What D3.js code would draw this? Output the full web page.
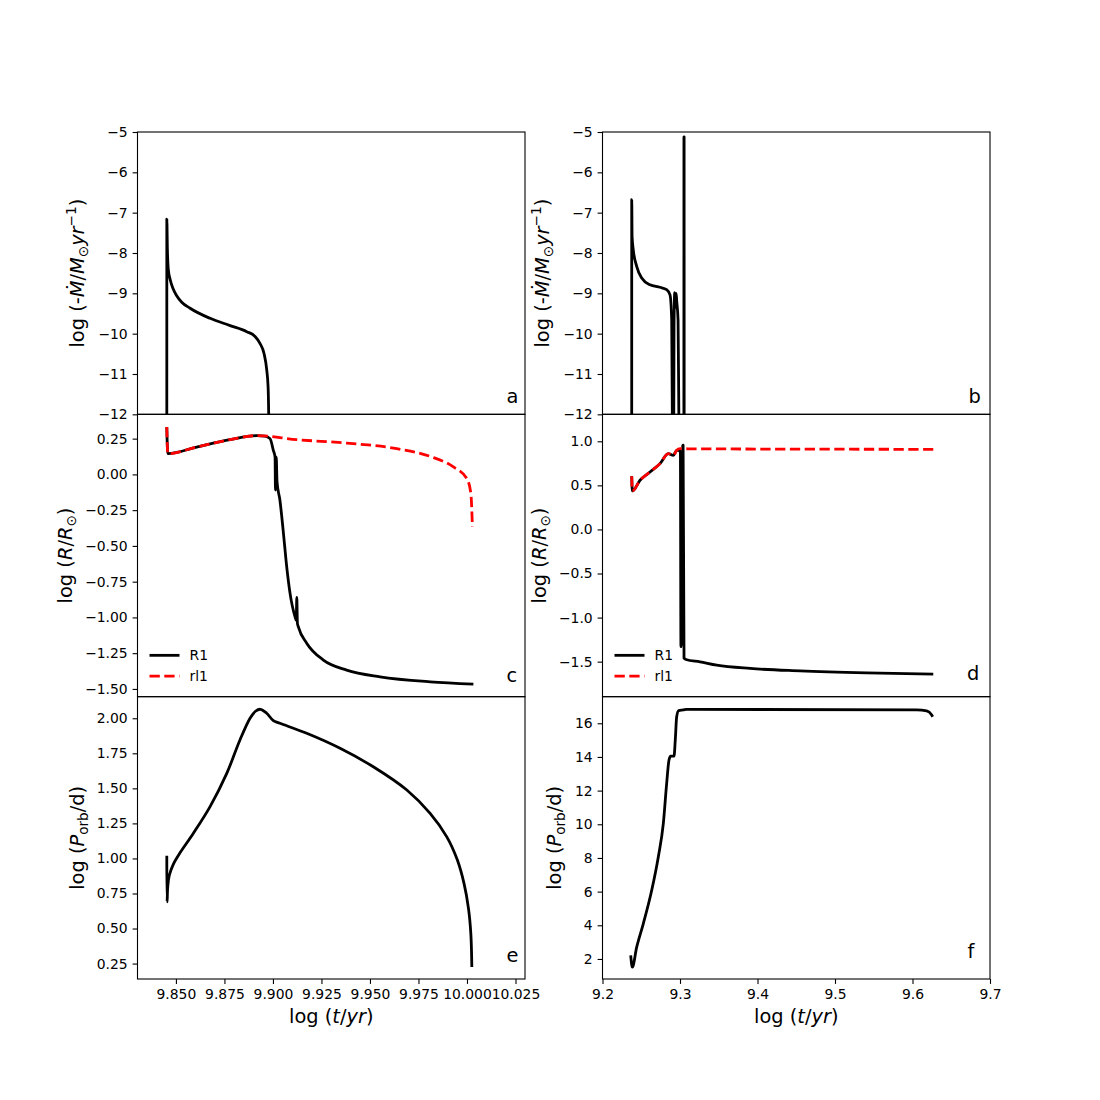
<!doctype html>
<html lang="en">
<head>
<meta charset="UTF-8">
<title>Binary evolution</title>
<script src="https://cdn.jsdelivr.net/npm/d3@7"></script>
<style>
	body { margin: 0; background: #fff; }
	text { font-family: "DejaVu Sans", sans-serif; }
</style>
</head>
<body>
<div id="container"></div>
<script>
	// panel a: mass transfer rate (left system)
	var tA = [9.8453, 9.84531, 9.8456, 9.8461, 9.8470, 9.8485, 9.8504, 9.8530, 9.8573, 9.8676, 9.8779, 9.8865, 9.8908,
		9.8933, 9.8954, 9.8968, 9.8975, 9.8978, 9.8980];
	var mdotA = [-13, -7.16, -7.9, -8.42, -8.65, -8.88, -9.06, -9.22, -9.37, -9.62, -9.80, -9.95, -10.07,
		-10.24, -10.49, -10.90, -11.32, -11.98, -13];

	// panel b: mass transfer rate (right system)
	var tB = [9.2377, 9.23771, 9.2382, 9.2397, 9.2441, 9.2506, 9.2613, 9.2742, 9.2828, 9.2871, 9.2893, 9.2901, 9.2903,
		9.2918, 9.2923, 9.2932, 9.2940, 9.2950, 9.2958, 9.2975, 9.2985, 9.2990,
		9.3050, 9.3051, 9.3053, 9.3054];
	var mdotB = [-13, -6.68, -7.6, -7.92, -8.33, -8.62, -8.79, -8.85, -8.91, -9.04, -9.66, -12, -13,
		-13, -9.8, -8.98, -9.35, -9.0, -9.2, -9.66, -12, -13,
		-13, -5.12, -5.12, -13];

	// panel c: radius and Roche lobe (left system)
	var tR1c = [9.8453, 9.8458, 9.8607, 9.8779, 9.8916, 9.8959, 9.8985, 9.9002, 9.9011, 9.9013, 9.9017, 9.9021, 9.9036, 9.9054,
		9.9071, 9.9088, 9.9114, 9.9120, 9.9123, 9.9126, 9.9131, 9.9174, 9.9260, 9.9380, 9.9552, 9.9810, 10.0033];
	var r1C = [0.331, 0.145, 0.191, 0.243, 0.271, 0.268, 0.25, 0.168, 0.12, -0.11, 0.12, -0.05, -0.18, -0.41,
		-0.647, -0.83, -0.996, -1.02, -0.86, -1.04, -1.066, -1.18, -1.298, -1.368, -1.415, -1.45, -1.466];
	var tRl1c = [9.8453, 9.8458, 9.8607, 9.8779, 9.8916, 9.9123, 9.9380, 9.9638, 9.9810, 9.9930, 9.9999, 10.0020, 10.0028];
	var rl1C = [0.331, 0.145, 0.191, 0.243, 0.271, 0.243, 0.219, 0.18, 0.126, 0.052, -0.029, -0.134, -0.367];

	// panel d: radius and Roche lobe (right system)
	var tR1d = [9.2377, 9.2385, 9.2484, 9.2613, 9.2742, 9.2849, 9.2914, 9.2957, 9.2990, 9.3005, 9.3012, 9.3020, 9.3035, 9.3040,
		9.3052, 9.3077, 9.3258, 9.3474, 9.3903, 9.4548, 9.5409, 9.6268];
	var r1D = [0.603, 0.437, 0.558, 0.652, 0.747, 0.86, 0.84, 0.898, 0.90, 0.87, -1.33, -1.2, 0.95, 0.955,
		-1.46, -1.475, -1.502, -1.54, -1.577, -1.604, -1.627, -1.642];
	var tRl1d = [9.2377, 9.2385, 9.2484, 9.2613, 9.2742, 9.2849, 9.2914, 9.2957, 9.3000, 9.3100, 9.6268];
	var rl1D = [0.603, 0.437, 0.558, 0.652, 0.747, 0.86, 0.84, 0.898, 0.917, 0.915, 0.909];

	// panel e: orbital period (left system)
	var tE = [9.8453, 9.84545, 9.8458, 9.8466, 9.8487, 9.8521, 9.8590, 9.8676, 9.8762, 9.8830, 9.8882, 9.8910, 9.8935, 9.8968,
		9.9002, 9.9036, 9.9174, 9.9346, 9.9517, 9.9690, 9.9810, 9.9896, 9.9950, 9.9985, 10.0008, 10.0020, 10.0025];
	var porbE = [1.02, 0.69, 0.80, 0.88, 0.96, 1.04, 1.18, 1.37, 1.607, 1.845, 2.0, 2.05, 2.064, 2.036,
		1.983, 1.964, 1.893, 1.786, 1.654, 1.488, 1.321, 1.154, 0.99, 0.82, 0.64, 0.46, 0.226];

	// panel f: orbital period (right system)
	var tF = [9.2364, 9.2385, 9.2441, 9.2526, 9.2635, 9.2720, 9.2785, 9.2828, 9.2858, 9.2880, 9.2923, 9.2939, 9.2957, 9.2983,
		9.3043, 9.3086, 9.6054, 9.6183, 9.6248, 9.6261];
	var porbF = [2.21, 1.51, 2.70, 4.09, 6.08, 8.06, 10.05, 12.43, 13.82, 14.05, 14.05, 15.0, 16.39, 16.75,
		16.79, 16.83, 16.79, 16.73, 16.49, 16.39];

	// tick labels
	var xTicksLeft = [9.850, 9.875, 9.900, 9.925, 9.950, 9.975, 10.000, 10.025];
	var xTicksRight = [9.2, 9.3, 9.4, 9.5, 9.6, 9.7];
	var yTicksMdot = [-12, -11, -10, -9, -8, -7, -6, -5];
	var yTicksRc = [-1.50, -1.25, -1.00, -0.75, -0.50, -0.25, 0.00, 0.25];
	var yTicksRd = [-1.5, -1.0, -0.5, 0.0, 0.5, 1.0];
	var yTicksPe = [0.25, 0.50, 0.75, 1.00, 1.25, 1.50, 1.75, 2.00];
	var yTicksPf = [2, 4, 6, 8, 10, 12, 14, 16];
	var legendNames = ["R1", "rl1"];

	var width = 1100, height = 1100;
	var colLeft = [137.5, 602.5];
	var rowTop = [132, 414.33, 696.67];
	var pw = 387.5, ph = 282.33;
	var xDomLeft = [9.8302, 10.0299];
	var xDomRight = [9.2, 9.7];

	function zip(xs, ys) {
		return xs.map(function (x, i) { return [x, ys[i]]; });
	}

	var mdotLabel = [["log (-"], ["Ṁ", "i"], ["/"], ["M", "i"], ["⊙", "sub"], ["yr", "i"], ["−1", "sup"], [")"]];
	var radLabel = [["log ("], ["R", "i"], ["/"], ["R", "i"], ["⊙", "sub"], [")"]];
	var porbLabel = [["log ("], ["P", "i"], ["orb", "sub"], ["/d)"]];

	var panels = [
		{col: 0, row: 0, yDom: [-12, -5], yTicks: yTicksMdot, fmt: "d", label: mdotLabel, labX: 84, letter: "a", lx: 369, ly: 270.5,
			series: [{d: zip(tA, mdotA), color: "#000"}]},
		{col: 1, row: 0, yDom: [-12, -5], yTicks: yTicksMdot, fmt: "d", label: mdotLabel, labX: 549, letter: "b", lx: 366, ly: 270.5,
			series: [{d: zip(tB, mdotB), color: "#000"}]},
		{col: 0, row: 1, yDom: [-1.554, 0.42], yTicks: yTicksRc, fmt: ".2f", label: radLabel, labX: 72, letter: "c", lx: 369, ly: 267.5,
			series: [{d: zip(tR1c, r1C), color: "#000"}, {d: zip(tRl1c, rl1C), color: "#ff0000", dash: "10.3,4.5"}], legend: true},
		{col: 1, row: 1, yDom: [-1.897, 1.306], yTicks: yTicksRd, fmt: ".1f", label: radLabel, labX: 546, letter: "d", lx: 364.5, ly: 265.5,
			series: [{d: zip(tR1d, r1D), color: "#000"}, {d: zip(tRl1d, rl1D), color: "#ff0000", dash: "10.3,4.5"}], legend: true},
		{col: 0, row: 2, yDom: [0.140, 2.154], yTicks: yTicksPe, fmt: ".2f", label: porbLabel, labX: 84, letter: "e", lx: 369, ly: 265,
			series: [{d: zip(tE, porbE), color: "#000", smooth: true}]},
		{col: 1, row: 2, yDom: [0.81, 17.58], yTicks: yTicksPf, fmt: "d", label: porbLabel, labX: 561, letter: "f", lx: 365, ly: 261.5,
			series: [{d: zip(tF, porbF), color: "#000"}]}
	];

	var svg = d3.select("#container")
			.append("svg")
			.attr("width", width)
			.attr("height", height);

	svg.append("rect").attr("width", width).attr("height", height).attr("fill", "#fff");

	panels.forEach(function (p, k) {
		var scale_x = d3.scaleLinear()
				.domain(p.col === 0 ? xDomLeft : xDomRight)
				.range([0, pw]);
		var scale_y = d3.scaleLinear()
				.domain(p.yDom)
				.range([ph, 0]);

		var g = svg.append("g")
				.attr("transform", "translate(" + colLeft[p.col] + "," + rowTop[p.row] + ")");

		g.append("clipPath").attr("id", "clip" + k)
				.append("rect").attr("width", pw).attr("height", ph);

		p.series.forEach(function (s) {
			var line_generator = d3.line()
					.x(function (d) { return scale_x(d[0]); })
					.y(function (d) { return scale_y(d[1]); })
					.curve(s.smooth ? d3.curveCatmullRom.alpha(0.5) : d3.curveMonotoneX);
			g.append("path")
					.attr("clip-path", "url(#clip" + k + ")")
					.attr("d", line_generator(s.d))
					.attr("fill", "none")
					.attr("stroke", s.color)
					.attr("stroke-width", 2.8)
					.attr("stroke-dasharray", s.dash || null)
					.attr("stroke-linejoin", "round");
		});

		// y axis
		var y_axis = d3.axisLeft(scale_y)
				.tickValues(p.yTicks)
				.tickFormat(d3.format(p.fmt))
				.tickSizeOuter(0)
				.tickSize(4.9)
				.tickPadding(4.9);
		var ya = g.append("g").call(y_axis);
		ya.select(".domain").remove();
		ya.selectAll("line").attr("stroke-width", 1.1);
		ya.selectAll("text").attr("font-size", 13.9).attr("font-family", "DejaVu Sans").attr("fill", "#000");

		// x axis only on the bottom row
		if (p.row === 2) {
			var x_axis = d3.axisBottom(scale_x)
					.tickValues(p.col === 0 ? xTicksLeft : xTicksRight)
					.tickFormat(d3.format(p.col === 0 ? ".3f" : ".1f"))
					.tickSizeOuter(0)
					.tickSize(4.9)
					.tickPadding(4.9);
			var xa = g.append("g").attr("transform", "translate(0," + ph + ")").call(x_axis);
			xa.select(".domain").remove();
			xa.selectAll("line").attr("stroke-width", 1.1);
			xa.selectAll("text").attr("font-size", 13.9).attr("font-family", "DejaVu Sans").attr("fill", "#000");

			var xl = g.append("text")
					.attr("x", pw / 2)
					.attr("y", 1023 - rowTop[2])
					.attr("text-anchor", "middle")
					.attr("font-size", 19.4);
			xl.append("tspan").text("log (");
			xl.append("tspan").attr("font-style", "italic").text("t");
			xl.append("tspan").text("/");
			xl.append("tspan").attr("font-style", "italic").text("yr");
			xl.append("tspan").text(")");
		}

		// frame
		g.append("rect")
				.attr("width", pw)
				.attr("height", ph)
				.attr("fill", "none")
				.attr("stroke", "#000")
				.attr("stroke-width", 1.1);

		// panel letter
		g.append("text")
				.attr("x", p.lx)
				.attr("y", p.ly)
				.attr("font-size", 19.4)
				.text(p.letter);

		// y label (rotated, with italic / sub / sup parts)
		var yl = g.append("text")
				.attr("transform", "translate(" + (p.labX - colLeft[p.col]) + "," + (ph / 2) + ") rotate(-90)")
				.attr("text-anchor", "middle")
				.attr("font-size", 19.4);
		var shift = 0;
		p.label.forEach(function (part) {
			var t = yl.append("tspan").text(part[0]);
			var want = 0;
			if (part[1] === "i") t.attr("font-style", "italic");
			if (part[1] === "sub") { t.attr("font-size", 13.6); want = 4; }
			if (part[1] === "sup") { t.attr("font-size", 13.6).attr("font-style", "normal"); want = -8; }
			if (want !== shift) { t.attr("dy", want - shift); shift = want; }
		});

		if (p.legend) {
			var lg = g.append("g").attr("transform", "translate(12,241)");
			p.series.forEach(function (s, i) {
				lg.append("line")
						.attr("x1", 0).attr("x2", 30)
						.attr("y1", i * 20.7).attr("y2", i * 20.7)
						.attr("stroke", s.color)
						.attr("stroke-width", 2.8)
						.attr("stroke-dasharray", s.dash || null);
				lg.append("text")
						.attr("x", 40)
						.attr("y", i * 20.7)
						.attr("dy", "0.35em")
						.attr("font-size", 13.9)
						.text(legendNames[i]);
			});
		}
	});
</script>
</body>
</html>
